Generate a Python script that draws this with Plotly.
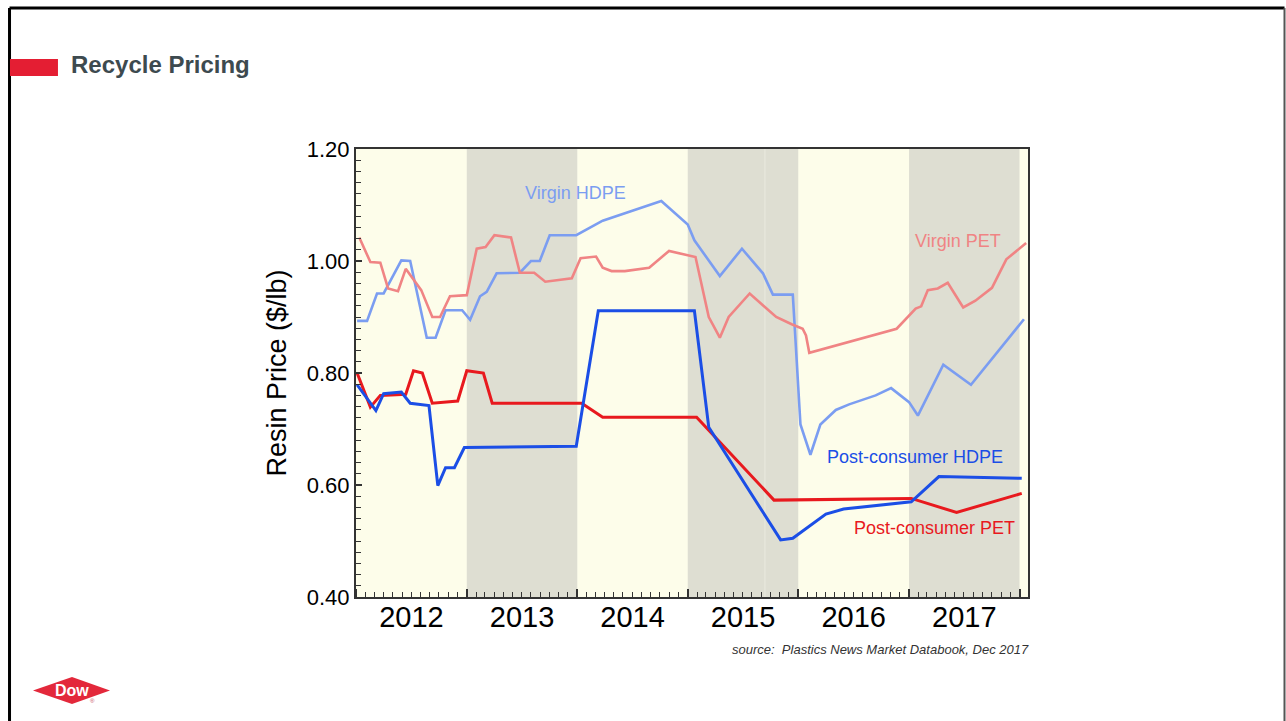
import pandas as pd
import plotly.graph_objects as go

# Resin prices, $/lb, sampled at decimal-year positions
vhdpe_year = [2012.01, 2012.10, 2012.19, 2012.25, 2012.41, 2012.49, 2012.64, 2012.72, 2012.81, 2012.96,
              2013.03, 2013.12, 2013.18, 2013.27, 2013.48, 2013.58, 2013.66, 2013.75, 2013.99,
              2014.23, 2014.76,
              2015.00, 2015.06, 2015.29, 2015.49, 2015.68, 2015.77, 2015.95,
              2016.02, 2016.11, 2016.20, 2016.34, 2016.46, 2016.70, 2016.84,
              2017.00, 2017.08, 2017.31, 2017.56, 2018.04]
vhdpe_price = [0.893, 0.893, 0.942, 0.942, 1.001, 1.000, 0.863, 0.863, 0.912, 0.912,
               0.895, 0.937, 0.945, 0.978, 0.979, 1.000, 1.000, 1.046, 1.046,
               1.072, 1.107,
               1.065, 1.037, 0.973, 1.022, 0.978, 0.940, 0.940,
               0.708, 0.654, 0.708, 0.734, 0.744, 0.760, 0.773,
               0.748, 0.724, 0.815, 0.779, 0.896]

vpet_year = [2012.03, 2012.13, 2012.22, 2012.29, 2012.38, 2012.45, 2012.59, 2012.69, 2012.76, 2012.85,
             2013.00, 2013.09, 2013.17, 2013.25, 2013.40, 2013.48, 2013.61, 2013.71, 2013.95,
             2014.03, 2014.17, 2014.23, 2014.31, 2014.43, 2014.65, 2014.83,
             2015.07, 2015.19, 2015.29, 2015.37, 2015.56, 2015.80, 2015.94,
             2016.04, 2016.07, 2016.10, 2016.89,
             2017.06, 2017.11, 2017.17, 2017.26, 2017.35, 2017.49, 2017.60, 2017.75, 2017.88,
             2018.06]
vpet_price = [1.042, 0.998, 0.997, 0.951, 0.946, 0.986, 0.948, 0.900, 0.900, 0.937,
              0.939, 1.022, 1.025, 1.046, 1.042, 0.979, 0.979, 0.963, 0.969,
              1.005, 1.008, 0.988, 0.982, 0.982, 0.988, 1.018,
              1.007, 0.900, 0.863, 0.900, 0.942, 0.900, 0.887,
              0.879, 0.867, 0.836, 0.879,
              0.915, 0.919, 0.948, 0.951, 0.961, 0.917, 0.929, 0.952, 1.003,
              1.032]

pchdpe_year = [2012.01, 2012.13, 2012.18, 2012.25, 2012.41, 2012.49, 2012.66, 2012.74, 2012.81, 2012.89,
               2012.98, 2013.99, 2014.19, 2015.06, 2015.19, 2015.84, 2015.95, 2016.25, 2016.41,
               2017.02, 2017.27, 2018.02]
pchdpe_price = [0.779, 0.745, 0.733, 0.763, 0.766, 0.746, 0.742, 0.599, 0.631, 0.631,
                0.667, 0.669, 0.911, 0.911, 0.703, 0.502, 0.505, 0.548, 0.557,
                0.570, 0.615, 0.612]

pcpet_year = [2012.01, 2012.13, 2012.22, 2012.45, 2012.52, 2012.60, 2012.69, 2012.92, 2013.00,
              2013.15, 2013.23, 2014.04, 2014.23, 2015.08, 2015.78, 2017.02, 2017.43, 2018.02]
pcpet_price = [0.800, 0.739, 0.760, 0.762, 0.804, 0.800, 0.746, 0.750, 0.804,
               0.800, 0.746, 0.746, 0.721, 0.721, 0.573, 0.576, 0.551, 0.585]

shaded_years = [2013, 2015, 2017]

FONT = "Liberation Sans, Arial, Helvetica, sans-serif"


def to_date(y):
    yr = int(y)
    return pd.Timestamp(yr, 1, 1) + pd.Timedelta(days=(y - yr) * 365.25)


def dates(years):
    return [to_date(v) for v in years]


fig = go.Figure()

series = [
    (vhdpe_year, vhdpe_price, "#7B9DF1", 2.6, "Virgin HDPE"),
    (vpet_year, vpet_price, "#F08484", 2.6, "Virgin PET"),
    (pcpet_year, pcpet_price, "#E8191E", 3.0, "Post-consumer PET"),
    (pchdpe_year, pchdpe_price, "#1B4EE6", 3.0, "Post-consumer HDPE"),
]
for yrs, vals, color, width, name in series:
    fig.add_trace(go.Scatter(x=dates(yrs), y=vals, mode="lines", name=name,
                             line=dict(color=color, width=width), hoverinfo="skip"))

shapes = []
# alternating year bands
for yr in shaded_years:
    shapes.append(dict(type="rect", xref="x", yref="paper", x0=f"{yr}-01-01", x1=f"{yr + 1}-01-01",
                       y0=0, y1=1, fillcolor="#DEDED2", line=dict(width=0), layer="below"))
shapes.append(dict(type="line", xref="x", yref="paper", x0="2015-09-13", x1="2015-09-13", y0=0, y1=1,
                   line=dict(color="#E6E6DB", width=1.5), layer="below"))

# slide frame
shapes += [
    dict(type="line", xref="paper", yref="paper", x0=-0.5156, x1=-0.5156, y0=-0.30, y1=1.3147,
         line=dict(color="black", width=3)),
    dict(type="line", xref="paper", yref="paper", x0=-0.5156, x1=1.3817, y0=1.3147, y1=1.3147,
         line=dict(color="black", width=3)),
    dict(type="line", xref="paper", yref="paper", x0=1.3817, x1=1.3817, y0=-0.30, y1=1.3147,
         line=dict(color="#555555", width=2)),
]
# title accent bar
shapes.append(dict(type="rect", xref="paper", yref="paper", x0=-0.5149, x1=-0.4435, y0=1.1629, y1=1.2009,
                   fillcolor="#E41E33", line=dict(width=0)))
# logo diamond
shapes.append(dict(type="path", xref="paper", yref="paper",
                   path="M -0.4807 -0.2087 L -0.4226 -0.1786 L -0.3661 -0.2087 L -0.4226 -0.2388 Z",
                   fillcolor="#E3283B", line=dict(width=0)))

annotations = [
    dict(text="Virgin HDPE", x=0.3259, y=0.9018, font=dict(size=18, color="#7B9DF1")),
    dict(text="Virgin PET", x=0.8958, y=0.7946, font=dict(size=18, color="#F08484")),
    dict(text="Post-consumer HDPE", x=0.8318, y=0.3125, font=dict(size=18, color="#1B4EE6")),
    dict(text="Post-consumer PET", x=0.8616, y=0.1540, font=dict(size=18, color="#E8191E")),
    dict(text="<i>source:  Plastics News Market Databook, Dec 2017</i>", x=1.005, y=-0.1183,
         xanchor="right", font=dict(size=13, color="#333333")),
    dict(text="<b>Recycle Pricing</b>", x=-0.4271, y=1.1897, xanchor="left",
         font=dict(size=24, color="#3D4A4F")),
    dict(text="<b>Dow</b>", x=-0.4226, y=-0.2076, font=dict(size=16, color="white")),
    dict(text="®", x=-0.3914, y=-0.2321, font=dict(size=6, color="#C85060")),
]
for a in annotations:
    a.setdefault("xanchor", "center")
    a.update(xref="paper", yref="paper", yanchor="middle", showarrow=False)
    a["font"]["family"] = FONT

fig.update_layout(
    width=1286, height=721,
    margin=dict(l=356, r=258, t=149, b=124),
    paper_bgcolor="white", plot_bgcolor="#FDFDEA",
    showlegend=False,
    font=dict(family=FONT, color="black"),
    shapes=shapes, annotations=annotations,
    xaxis=dict(
        type="date", range=["2012-01-01", "2018-01-29"],
        tick0="2012-01-01", dtick="M12", tickformat="%Y", ticklabelmode="period",
        ticks="inside", ticklen=8, tickwidth=1.5, tickcolor="#333333",
        minor=dict(dtick="M1", ticks="inside", ticklen=5, tickwidth=1, tickcolor="#333333", showgrid=False),
        showgrid=False, zeroline=False,
        showline=True, linecolor="#333333", linewidth=2, mirror=True,
        tickfont=dict(size=29, color="black"),
        ticklabelstandoff=-7,
    ),
    yaxis=dict(
        range=[0.4, 1.2], tick0=0.4, dtick=0.2, tickformat=".2f",
        ticks="inside", ticklen=6, tickwidth=1.5, tickcolor="#333333",
        minor=dict(dtick=0.02, ticks="inside", ticklen=5, tickwidth=1, tickcolor="#333333", showgrid=False),
        showgrid=False, zeroline=False,
        showline=True, linecolor="#333333", linewidth=2, mirror=True,
        tickfont=dict(size=22, color="black"),
        title=dict(text="Resin Price ($/lb)", font=dict(size=27, color="black"), standoff=12),
    ),
)

fig.write_html("out.html")
